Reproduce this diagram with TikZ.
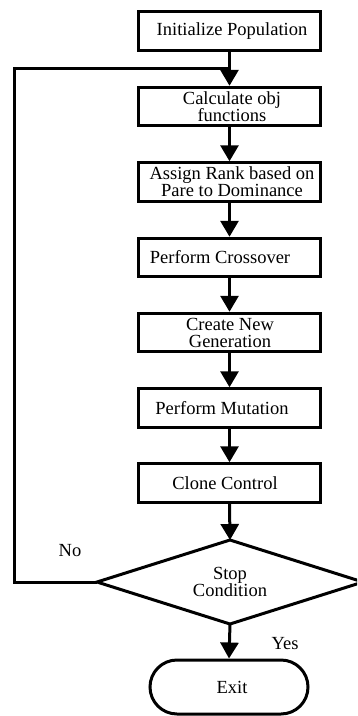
\documentclass[tikz,border=0pt]{standalone}
\usepackage{fontspec}
\setmainfont{Liberation Serif}
\usetikzlibrary{arrows.meta,shapes.misc}
\begin{document}
\begin{tikzpicture}[x=1pt,y=-1pt,
  box/.style={draw,line width=3pt,minimum width=182pt,minimum height=38.5pt,inner sep=0pt},
  txt/.style={align=center,font=\fontsize{18.5}{17}\selectfont,inner sep=0pt},
  flow/.style={line width=3pt,-{Triangle[length=16pt,width=18pt]}},
  plain/.style={line width=3pt}]
\useasboundingbox (0,0) rectangle (357,716);
\clip (0,0) rectangle (357,716);
% boxes
\node[box] (b1) at (229.5,31) {};
\node[txt] (t1) at (232,31) {Initialize Population};
\node[box] (b2) at (229.5,106.5) {};
\node[txt] (t2) at (232,106.5) {Calculate obj\\functions};
\node[box] (b3) at (229.5,182) {};
\node[txt] (t3) at (232,182) {Assign Rank based on\\Pare to Dominance};
\node[box] (b4) at (229.5,257.5) {};
\node[txt] (t4) at (220,257.5) {Perform Crossover};
\node[box] (b5) at (229.5,332.5) {};
\node[txt] (t5) at (230,332.5) {Create New\\Generation};
\node[box] (b6) at (229.5,408) {};
\node[txt] (t6) at (222,408) {Perform Mutation};
\node[box] (b7) at (229.5,483) {};
\node[txt] (t7) at (225,483) {Clone Control};
% diamond
\coordinate (dtop) at (230,540);
\coordinate (dright) at (363,582);
\coordinate (dbottom) at (230,624);
\coordinate (dleft) at (97,582);
\draw[line width=3pt,line join=miter] (dtop) -- (dright) -- (dbottom) -- (dleft) -- cycle;
\node[txt] (d) at (230,582) {Stop\\Condition};
% exit
\node[draw,rounded rectangle,line width=3pt,minimum width=158pt,minimum height=54pt,inner sep=0pt] (ex) at (229,687) {};
\node[txt] (tex) at (232,687) {Exit};
% connectors
\coordinate (join) at (229.5,68);
\coordinate (corner) at (14,68);
\coordinate (low) at (14,582);
\draw[flow] (b1.south) -- (b2.north);
\draw[plain] (dleft) -- (low) -- (corner) -- (join);
\draw[flow] (b2.south) -- (b3.north);
\draw[flow] (b3.south) -- (b4.north);
\draw[flow] (b4.south) -- (b5.north);
\draw[flow] (b5.south) -- (b6.north);
\draw[flow] (b6.south) -- (b7.north);
\draw[flow] (b7.south) -- (dtop);
\draw[flow] (dbottom) -- (ex.north);
\node[txt] (no) at (70,551) {No};
\node[txt] (yes) at (285,644) {Yes};
\end{tikzpicture}
\end{document}
